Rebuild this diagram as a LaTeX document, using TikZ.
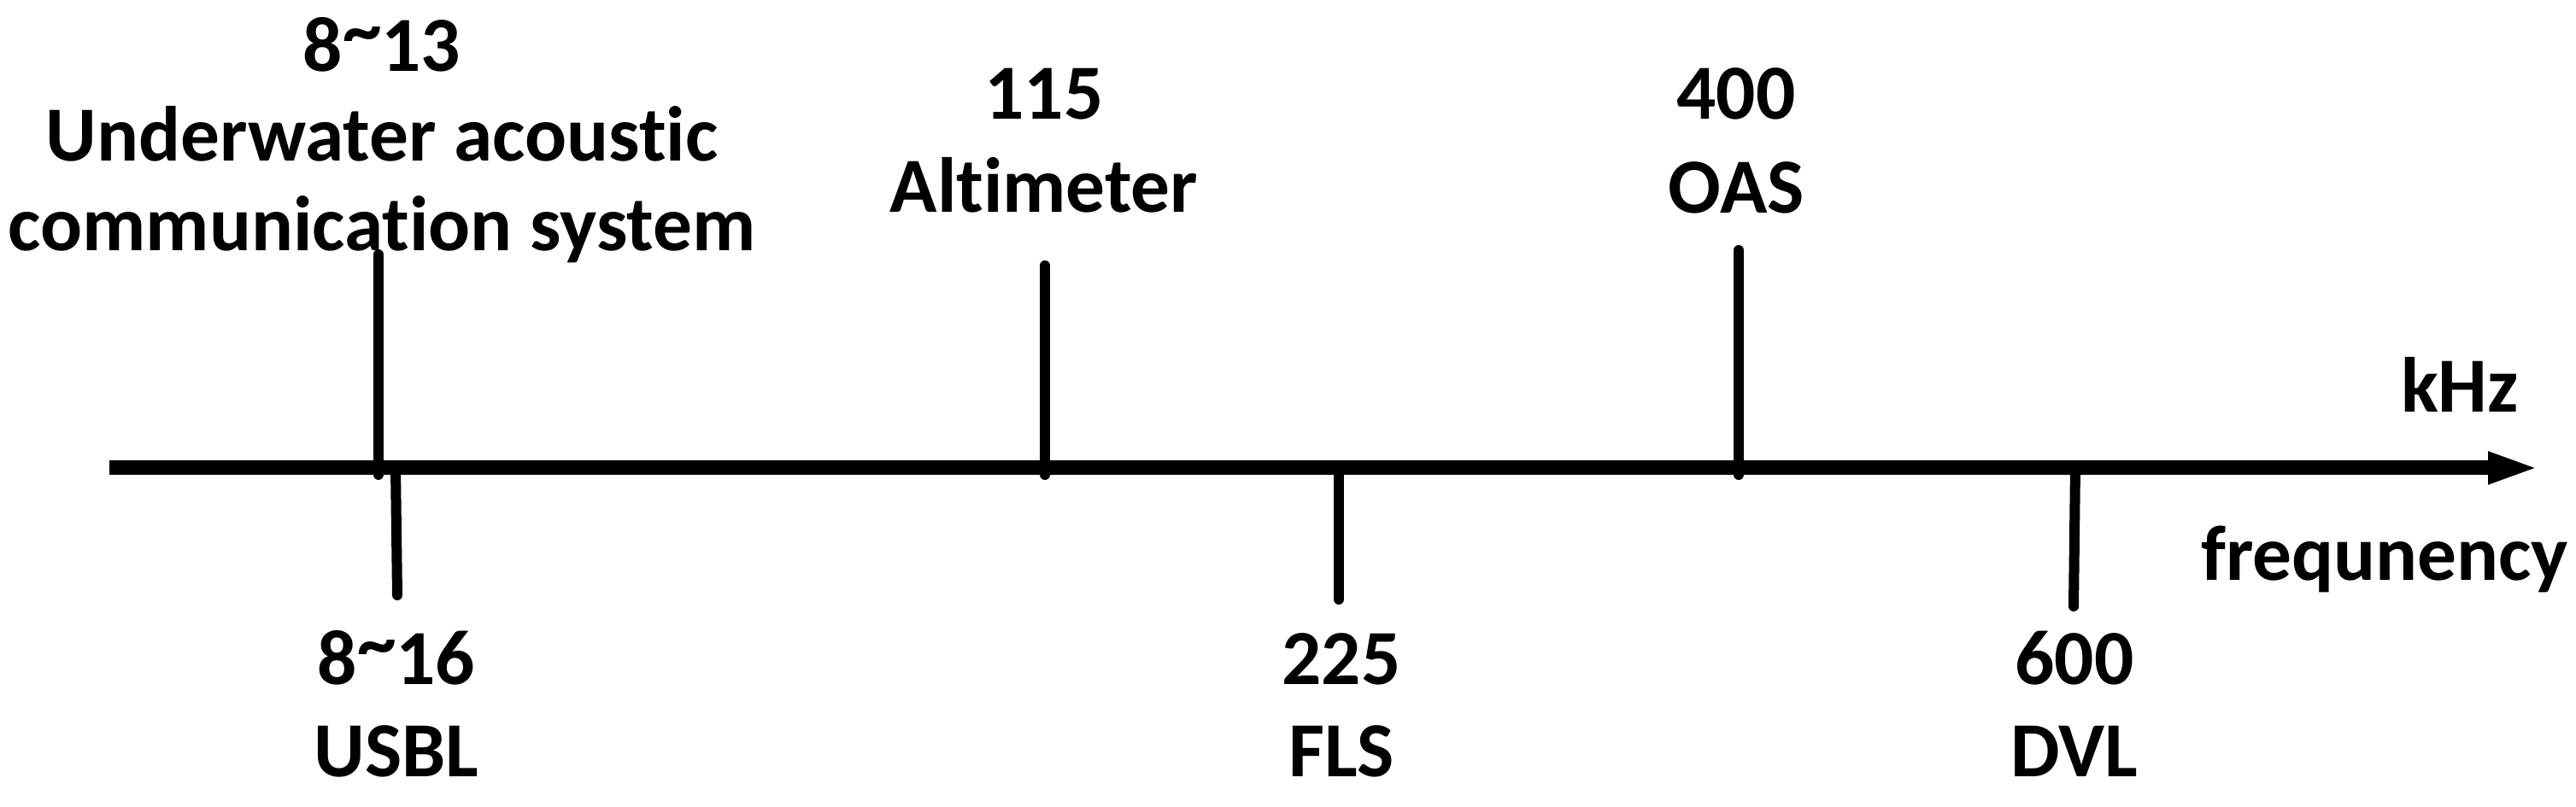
\documentclass[tikz,border=0pt]{standalone}
\usepackage{fontspec}
\setmainfont{Carlito}[RawFeature=-liga]
\usetikzlibrary{arrows.meta}
\newcommand\hightilde{\raisebox{0.2em}{\textasciitilde}}
\newcommand\nolig{\kern0pt{}}
\begin{document}
\begin{tikzpicture}[
    lbl/.style={font=\bfseries\fontsize{26}{31}\selectfont, inner sep=0pt, anchor=base},
    axisline/.style={line width=0.17cm, -{Triangle[length=0.6cm,width=0.34cm]}},
    tickline/.style={line width=0.12cm, line cap=round}]
  \useasboundingbox (0,0) rectangle (30.15,9.45);
  % frequency axis
  \coordinate (axStart) at (1.28,3.97);
  \coordinate (axEnd) at (29.72,3.97);
  \draw[axisline] (axStart) -- (axEnd);
  % ticks above the axis
  \coordinate (uacFoot) at (4.43,3.89);
  \coordinate (uacTop) at (4.43,6.47);
  \coordinate (altFoot) at (12.23,3.89);
  \coordinate (altTop) at (12.23,6.34);
  \coordinate (oasFoot) at (20.35,3.89);
  \coordinate (oasTop) at (20.35,6.52);
  \draw[tickline] (uacFoot) -- (uacTop);
  \draw[tickline] (altFoot) -- (altTop);
  \draw[tickline] (oasFoot) -- (oasTop);
  % ticks below the axis
  \coordinate (usblFoot) at (4.63,3.97);
  \coordinate (usblEnd) at (4.65,2.48);
  \coordinate (flsFoot) at (15.67,3.97);
  \coordinate (flsEnd) at (15.67,2.43);
  \coordinate (dvlFoot) at (24.29,3.97);
  \coordinate (dvlEnd) at (24.27,2.35);
  \draw[tickline] (usblFoot) -- (usblEnd);
  \draw[tickline] (flsFoot) -- (flsEnd);
  \draw[tickline] (dvlFoot) -- (dvlEnd);
  % labels above
  \node[lbl] (uacFreq) at (4.47,8.61) {8\hightilde13};
  \node[lbl] (uacName) at (4.47,7.56) {Underwater acoustic};
  \node[lbl] (uacName2) at (4.47,6.51) {communicat\nolig ion system};
  \node[lbl] (altFreq) at (12.22,8.05) {115};
  \node[lbl] (altName) at (12.22,6.96) {Alt\nolig imeter};
  \node[lbl] (oasFreq) at (20.32,8.05) {400};
  \node[lbl] (oasName) at (20.32,6.95) {OAS};
  % labels below
  \node[lbl] (usblFreq) at (4.64,1.43) {8\hightilde16};
  \node[lbl] (usblName) at (4.64,0.35) {USBL};
  \node[lbl] (flsFreq) at (15.70,1.43) {225};
  \node[lbl] (flsName) at (15.70,0.35) {FLS};
  \node[lbl] (dvlFreq) at (24.28,1.43) {600};
  \node[lbl] (dvlName) at (24.28,0.35) {DVL};
  % axis labels
  \node[lbl] (unit) at (28.79,4.62) {kHz};
  \node[lbl, anchor=base east] (axName) at (30.07,2.65) {frequnency};
\end{tikzpicture}
\end{document}
